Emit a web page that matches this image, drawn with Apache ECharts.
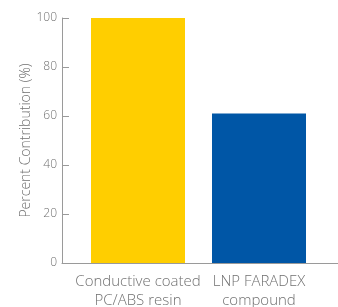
<!DOCTYPE html>
<html>
<head>
<meta charset="utf-8">
<script src="https://cdn.jsdelivr.net/npm/echarts@6/dist/echarts.min.js"></script>
<style>
    html, body { margin: 0; padding: 0; background: #fff; }
    #chart { width: 338px; height: 307px; }
</style>
</head>
<body>
<div id="chart"></div>
<script>
const categories = ['Conductive coated\nPC/ABS resin', 'LNP FARADEX\ncompound'];
const contribution = [100, 61];
const barColors = ['#FFCE00', '#0056A6'];
const yTicks = { min: 0, max: 100, interval: 20 };

const textColor = '#707070';
const lineColor = '#9a9a9a';
const fontFamily = '"Open Sans", "Noto Sans", sans-serif';

const chart = echarts.init(document.getElementById('chart'));

chart.setOption({
    animation: false,
    grid: [
        // frame: y axis and the full-width baseline
        { left: 62, right: 0, top: 18, bottom: 44, outerBoundsMode: 'none' },
        // bars and category labels
        { left: 77.5, right: 18.5, top: 18, bottom: 44, outerBoundsMode: 'none' }
    ],
    xAxis: [
        {
            gridIndex: 0,
            type: 'category',
            data: [''],
            axisLine: { lineStyle: { color: lineColor, width: 1 } },
            axisTick: { show: false },
            axisLabel: { show: false }
        },
        {
            gridIndex: 1,
            type: 'category',
            data: categories,
            axisLine: { show: false },
            axisTick: { show: false },
            axisLabel: {
                color: textColor,
                fontFamily: fontFamily,
                fontWeight: 300,
                fontSize: 15,
                lineHeight: 19,
                margin: 9,
                interval: 0
            }
        }
    ],
    yAxis: [
        {
            gridIndex: 0,
            type: 'value',
            min: yTicks.min,
            max: yTicks.max,
            interval: yTicks.interval,
            name: 'Percent Contribution (%)',
            nameLocation: 'middle',
            nameGap: 29,
            nameMoveOverlap: false,
            nameTextStyle: { color: textColor, fontFamily: fontFamily, fontWeight: 300, fontSize: 14 },
            axisLine: { show: true, lineStyle: { color: lineColor, width: 1 } },
            axisTick: { show: true, inside: true, length: 7, lineStyle: { color: lineColor } },
            axisLabel: { color: textColor, fontFamily: fontFamily, fontWeight: 300, fontSize: 12, margin: 5 },
            splitLine: { show: false }
        },
        {
            gridIndex: 1,
            type: 'value',
            min: yTicks.min,
            max: yTicks.max,
            show: false
        }
    ],
    series: [{
        type: 'bar',
        xAxisIndex: 1,
        yAxisIndex: 1,
        barWidth: 94,
        data: contribution.map((v, i) => ({ value: v, itemStyle: { color: barColors[i] } }))
    }]
});
</script>
</body>
</html>
